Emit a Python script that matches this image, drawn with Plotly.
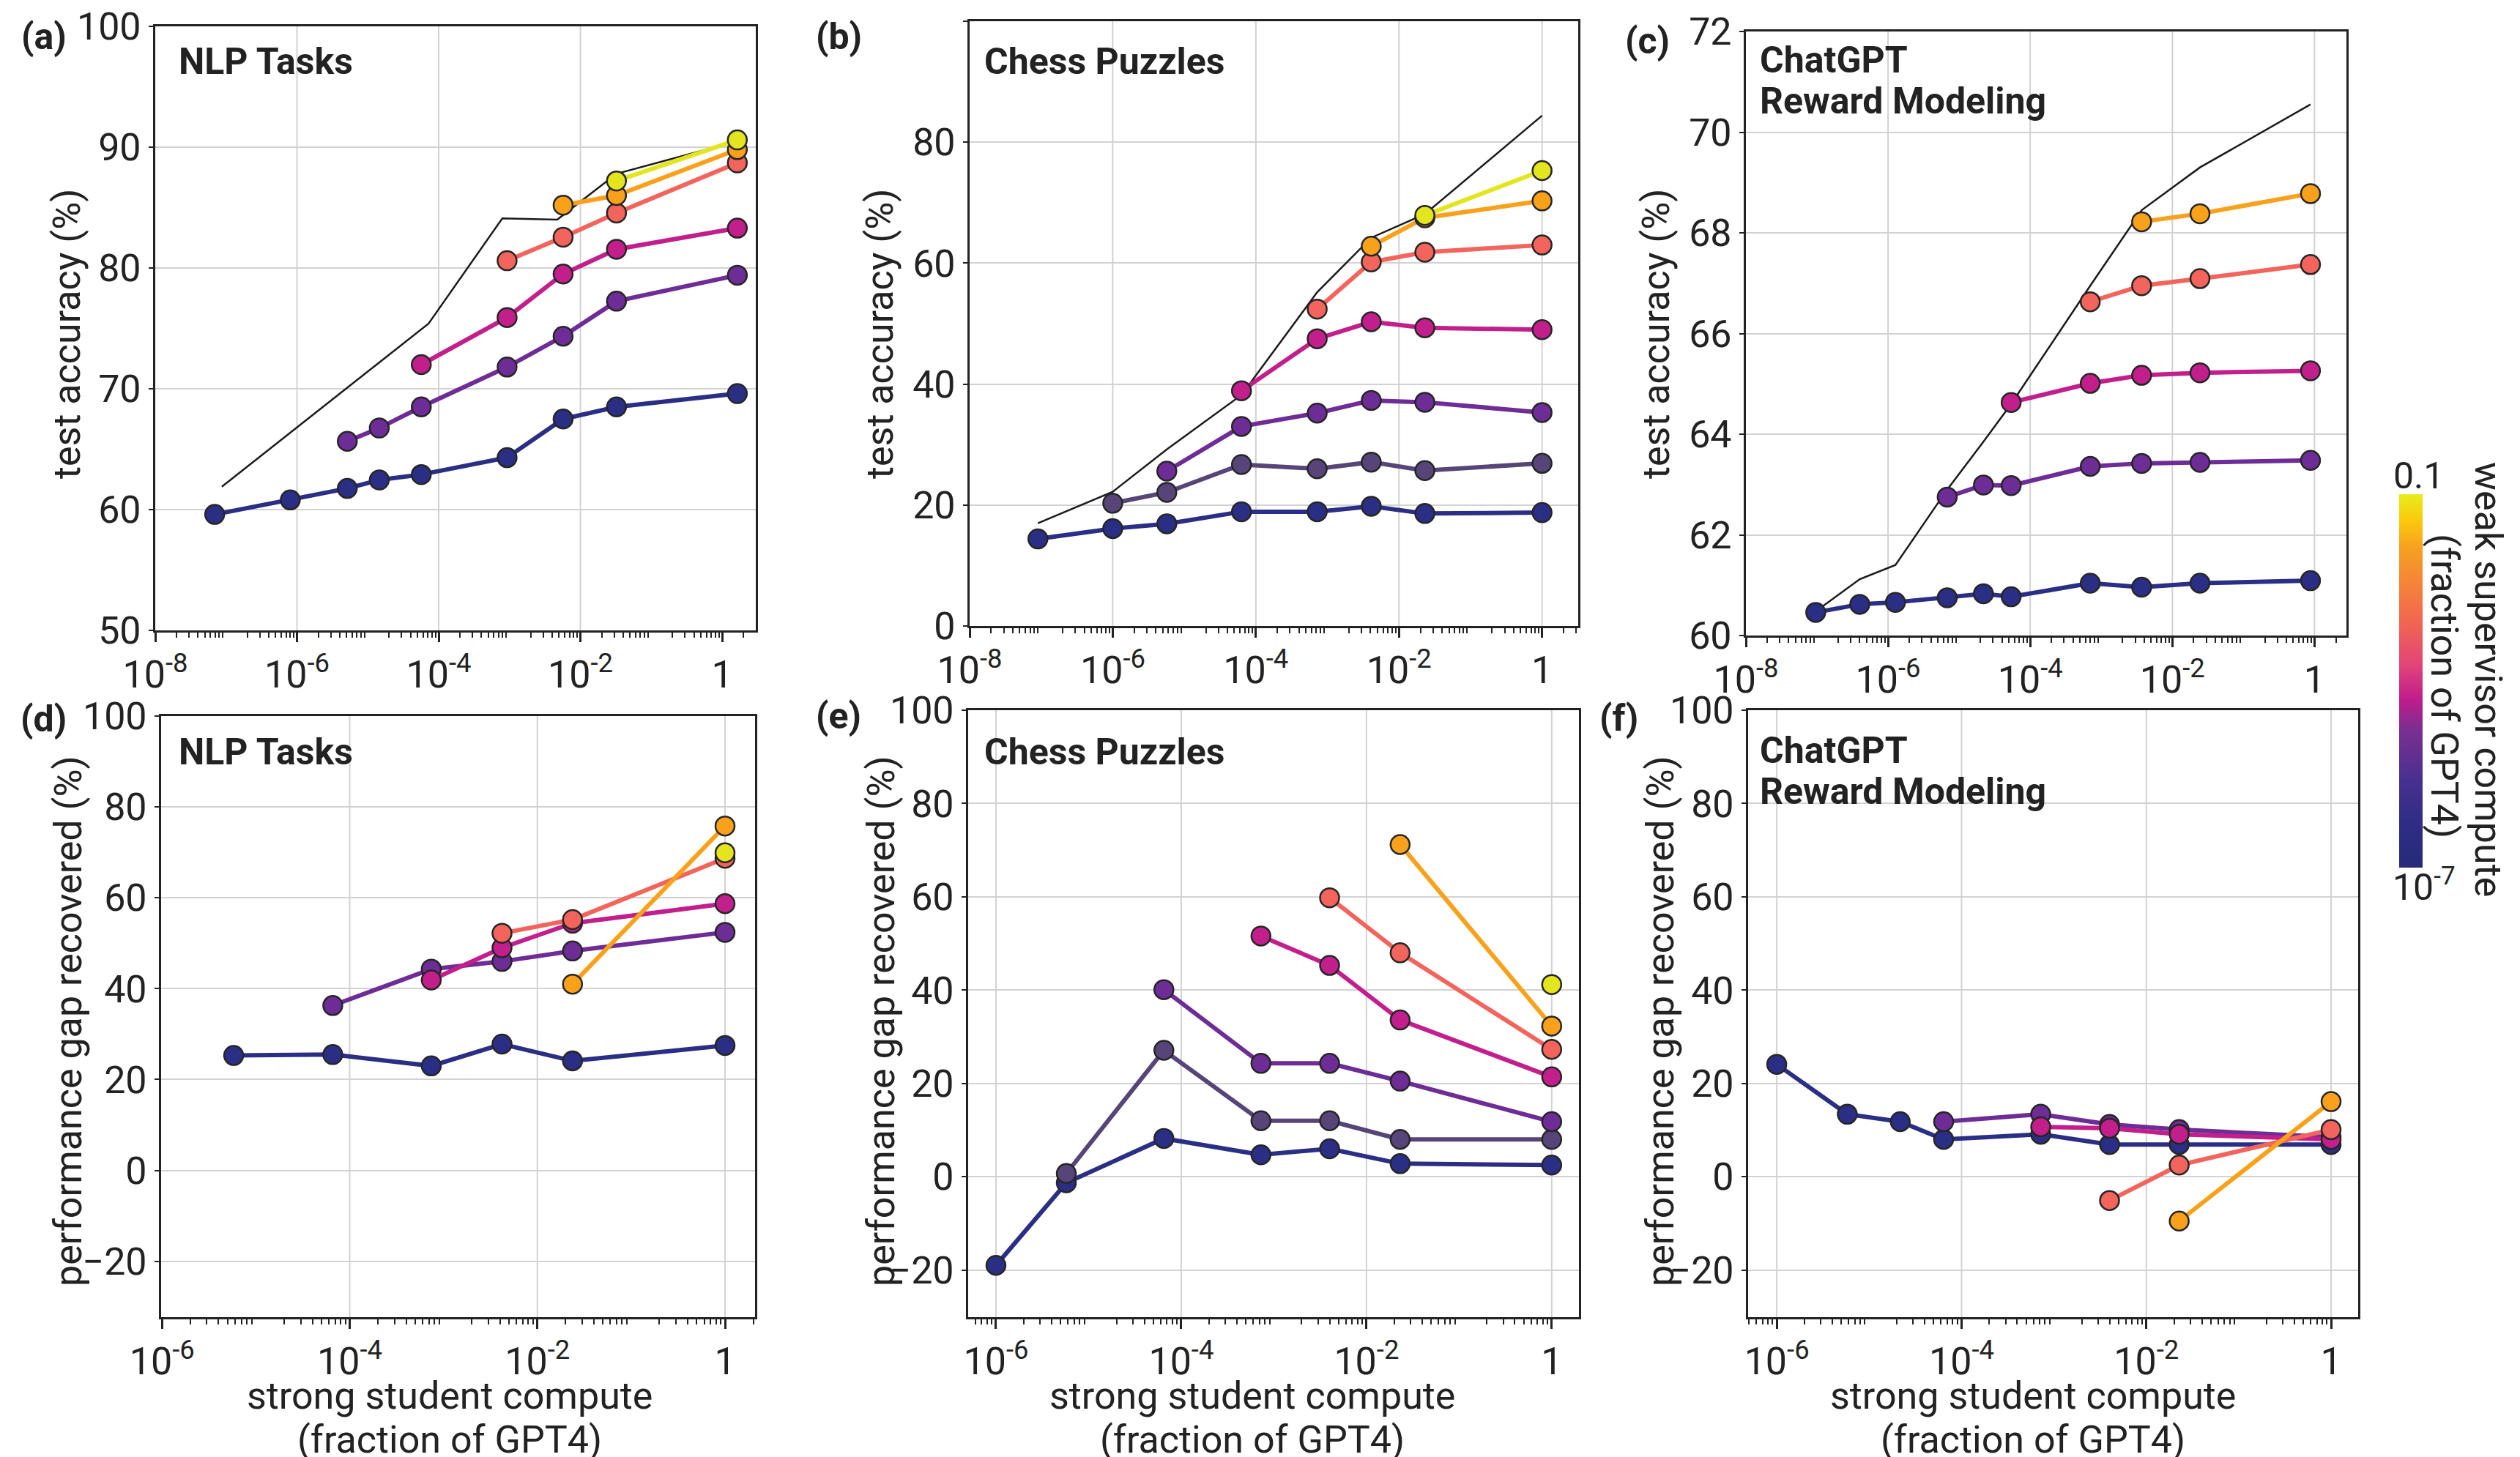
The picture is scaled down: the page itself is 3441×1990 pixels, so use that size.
import plotly.graph_objects as go

W, H = 3441, 1990

# ---------------- data ----------------
# (a) NLP tasks - test accuracy (%)
A_X = [6.9e-8, 8.05e-7, 5.13e-6, 1.45e-5, 5.68e-5, 9.23e-4, 5.70e-3, 0.0323, 1.64]
A_BLUE = [59.6, 60.8, 61.75, 62.45, 62.9, 64.3, 67.5, 68.5, 69.6]
A_PURPLE = [None, None, 65.65, 66.75, 68.5, 71.8, 74.35, 77.25, 79.4]
A_MAGENTA = [None, None, None, None, 72.0, 75.9, 79.5, 81.55, 83.3]
A_SALMON = [None, None, None, None, None, 80.6, 82.55, 84.55, 88.7]
A_ORANGE = [None, None, None, None, None, None, 85.2, 86.0, 89.8]
A_YELLOW = [None, None, None, None, None, None, None, 87.2, 90.6]
A_CEIL_X = [8.7e-8, 7.2e-5, 7.9e-4, 4.7e-3, 0.0323, 1.64]
A_CEIL = [61.9, 75.4, 84.1, 84.0, 87.8, 90.5]

# (b) Chess puzzles - test accuracy (%)
B_X = [9.0e-8, 1.0e-6, 5.7e-6, 6.3e-5, 7.2e-4, 4.1e-3, 0.023, 1.0]
B_BLUE = [14.4, 16.1, 16.9, 18.9, 18.9, 19.8, 18.6, 18.75]
B_GRAY = [None, 20.3, 22.1, 26.7, 26.0, 27.1, 25.7, 26.9]
B_PURPLE = [None, None, 25.6, 33.0, 35.2, 37.3, 37.0, 35.3]
B_MAGENTA = [None, None, None, 38.9, 47.5, 50.3, 49.3, 49.0]
B_SALMON = [None, None, None, None, 52.4, 60.2, 61.8, 63.0]
B_ORANGE = [None, None, None, None, None, 62.8, 67.5, 70.3]
B_YELLOW = [None, None, None, None, None, None, 67.9, 75.3]
B_CEIL = [17.0, 22.2, 29.2, 38.2, 55.2, 64.2, 68.1, 84.4]

# (c) ChatGPT reward modeling - test accuracy (%)
C_X = [9.6e-8, 4.0e-7, 1.27e-6, 6.8e-6, 2.2e-5, 5.4e-5, 7.0e-4, 3.7e-3, 0.0245, 0.88]
C_BLUE = [60.46, 60.62, 60.66, 60.75, 60.83, 60.77, 61.04, 60.96, 61.04, 61.09]
C_PURPLE = [None, None, None, 62.75, 62.99, 62.98, 63.36, 63.42, 63.44, 63.48]
C_MAGENTA = [None, None, None, None, None, 64.63, 65.01, 65.17, 65.22, 65.26]
C_SALMON = [None, None, None, None, None, None, 66.63, 66.95, 67.09, 67.37]
C_ORANGE = [None, None, None, None, None, None, None, 68.22, 68.38, 68.78]
C_CEIL = [60.48, 61.12, 61.4, 62.9, 63.85, 64.6, 66.95, 68.45, 69.3, 70.55]

# (d) NLP tasks - performance gap recovered (%)
D_X = [5.8e-6, 6.6e-5, 7.4e-4, 4.2e-3, 0.0237, 1.0]
D_BLUE = [25.3, 25.5, 23.0, 27.8, 24.1, 27.5]
D_PURPLE = [None, 36.3, 44.3, 46.0, 48.3, 52.4]
D_MAGENTA = [None, None, 41.9, 49.0, 54.4, 58.7]
D_SALMON = [None, None, None, 52.2, 55.2, 68.7]
D_ORANGE = [None, None, None, None, 41.0, 75.8]
D_YELLOW = [None, None, None, None, None, 69.9]

# (e) Chess puzzles - performance gap recovered (%)
E_X = [1.0e-6, 5.75e-6, 6.5e-5, 7.26e-4, 4.0e-3, 0.0231, 1.0]
E_BLUE = [-19.0, -1.3, 8.2, 4.7, 6.0, 2.8, 2.5]
E_GRAY = [None, 0.7, 27.1, 12.0, 12.0, 8.0, 8.0]
E_PURPLE = [None, None, 40.1, 24.3, 24.3, 20.5, 11.8]
E_MAGENTA = [None, None, None, 51.6, 45.3, 33.6, 21.4]
E_SALMON = [None, None, None, None, 59.8, 48.0, 27.3]
E_ORANGE = [None, None, None, None, None, 71.2, 32.3]
E_YELLOW = [None, None, None, None, None, None, 41.2]

# (f) ChatGPT reward modeling - performance gap recovered (%)
F_X = [1.0e-6, 5.8e-6, 2.17e-5, 6.4e-5, 7.2e-4, 4.0e-3, 0.0227, 1.0]
F_BLUE = [24.1, 13.4, 11.8, 8.0, 9.1, 6.9, 6.9, 6.9]
F_PURPLE = [None, None, None, 11.8, 13.4, 11.2, 10.1, 8.5]
F_MAGENTA = [None, None, None, None, 10.7, 10.4, 9.1, 8.0]
F_SALMON = [None, None, None, None, None, -5.1, 2.5, 10.1]
F_ORANGE = [None, None, None, None, None, None, -9.5, 16.1]

X_LABEL_EXP = [-8, -6, -4, -2, 0]
X_LABEL_TEXT = ["10<sup>-8</sup>", "10<sup>-6</sup>", "10<sup>-4</sup>", "10<sup>-2</sup>", "1"]
X_ODD_EXP = [-9, -7, -5, -3, -1]

# ---------------- styles ----------------
COL = dict(blue="#2a2f85", gray="#574579", purple="#6e2c97", magenta="#c21f8c",
           salmon="#f3645c", orange="#f9a11b", yellow="#e3e51f")
INK = "#222222"
GRID = "#d2d2d2"
FONT = "Roboto"

CSCALE = [[0.0, "#262a78"], [0.12, "#2f2d84"], [0.24, "#4a3090"], [0.37, "#7c2e92"],
          [0.45, "#bf1d8c"], [0.54, "#e2437a"], [0.64, "#ef6156"], [0.75, "#f5803c"],
          [0.86, "#f6a21e"], [0.93, "#fcc90c"], [1.0, "#e8ec1c"]]

# panel geometry in pixels: left, right, top, bottom
panels = [
    dict(box=(212, 1032, 36, 861), xr=(-8, 0.475), yr=(50, 100), yt=list(range(50, 101, 10)),
         x=A_X, series=[("blue", A_BLUE), ("purple", A_PURPLE), ("magenta", A_MAGENTA),
                        ("salmon", A_SALMON), ("orange", A_ORANGE), ("yellow", A_YELLOW)],
         ceil=(A_CEIL_X, A_CEIL), vgrid=[-6, -4, -2]),
    dict(box=(1324, 2155, 29, 855), xr=(-8, 0.505), yr=(0, 100), yt=list(range(0, 101, 20)),
         x=B_X, series=[("blue", B_BLUE), ("gray", B_GRAY), ("purple", B_PURPLE), ("magenta", B_MAGENTA),
                        ("salmon", B_SALMON), ("orange", B_ORANGE), ("yellow", B_YELLOW)],
         ceil=(B_X, B_CEIL), vgrid=[-6, -4, -2, 0]),
    dict(box=(2384, 3204, 43, 868), xr=(-8, 0.45), yr=(60, 72), yt=list(range(60, 73, 2)),
         x=C_X, series=[("blue", C_BLUE), ("purple", C_PURPLE), ("magenta", C_MAGENTA),
                        ("salmon", C_SALMON), ("orange", C_ORANGE)],
         ceil=(C_X, C_CEIL), vgrid=[-6, -4, -2, 0]),
    dict(box=(220, 1031, 978, 1799), xr=(-6.01, 0.32), yr=(-32.3, 100), yt=list(range(-20, 101, 20)),
         x=D_X, series=[("blue", D_BLUE), ("purple", D_PURPLE), ("magenta", D_MAGENTA),
                        ("salmon", D_SALMON), ("orange", D_ORANGE), ("yellow", D_YELLOW)],
         ceil=None, vgrid=[-4, -2, 0]),
    dict(box=(1322, 2156, 970, 1799), xr=(-6.3, 0.294), yr=(-30.1, 100), yt=list(range(-20, 101, 20)),
         x=E_X, series=[("blue", E_BLUE), ("gray", E_GRAY), ("purple", E_PURPLE), ("magenta", E_MAGENTA),
                        ("salmon", E_SALMON), ("orange", E_ORANGE), ("yellow", E_YELLOW)],
         ceil=None, vgrid=[-6, -4, -2, 0]),
    dict(box=(2387, 3220, 970, 1799), xr=(-6.31, 0.293), yr=(-30.1, 100), yt=list(range(-20, 101, 20)),
         x=F_X, series=[("blue", F_BLUE), ("purple", F_PURPLE), ("magenta", F_MAGENTA),
                        ("salmon", F_SALMON), ("orange", F_ORANGE)],
         ceil=None, vgrid=[-6, -4, -2, 0]),
]

fig = go.Figure()
layout = dict(width=W, height=H, margin=dict(l=0, r=0, t=0, b=0, pad=0, autoexpand=False),
              paper_bgcolor="white", plot_bgcolor="white", showlegend=False,
              font=dict(family=FONT, size=52, color=INK))

minor_vals = [m * 10.0 ** k for k in range(-9, 1) for m in range(2, 10)]

for i, p in enumerate(panels):
    n = "" if i == 0 else str(i + 1)
    xa, ya = "x" + n, "y" + n
    l, r, t, b = p["box"]
    lab = [(e, s) for e, s in zip(X_LABEL_EXP, X_LABEL_TEXT) if p["xr"][0] - 1e-6 <= e <= p["xr"][1]]
    layout["xaxis" + n] = dict(
        domain=[l / W, r / W], anchor=ya, type="log", range=list(p["xr"]), automargin=False,
        tickmode="array", tickvals=[10.0 ** e for e, _ in lab], ticktext=[s for _, s in lab],
        ticks="outside", ticklen=13, tickwidth=2.5, tickcolor=INK,
        minor=dict(tickvals=minor_vals, ticks="outside", ticklen=7, tickwidth=1.5, tickcolor=INK,
                   showgrid=False),
        showgrid=False, zeroline=False, showline=True, mirror=True, linecolor=INK, linewidth=3,
        tickfont=dict(size=52, color=INK), ticklabelstandoff=0)
    # second (overlaid) x axis carrying the unlabelled odd-decade major ticks
    layout["xaxis" + str(i + 7)] = dict(
        domain=[l / W, r / W], anchor=ya, overlaying=xa, side="bottom", type="log",
        range=list(p["xr"]), automargin=False, tickmode="array",
        tickvals=[10.0 ** e for e in X_ODD_EXP], showticklabels=False,
        ticks="outside", ticklen=13, tickwidth=2.5, tickcolor=INK,
        showgrid=False, zeroline=False, showline=False)
    layout["yaxis" + n] = dict(
        domain=[1 - b / H, 1 - t / H], anchor=xa, range=list(p["yr"]), automargin=False,
        tickmode="array", tickvals=p["yt"], ticks="outside", ticklen=6, tickwidth=2, tickcolor=INK,
        showgrid=True, gridcolor=GRID, gridwidth=2, zeroline=False,
        showline=True, mirror=True, linecolor=INK, linewidth=3,
        tickfont=dict(size=52, color=INK))

    # vertical grid lines at labelled decades
    gx, gy = [], []
    for e in p["vgrid"]:
        gx += [10.0 ** e, 10.0 ** e, None]
        gy += [p["yr"][0], p["yr"][1], None]
    fig.add_trace(go.Scatter(x=gx, y=gy, mode="lines", xaxis=xa, yaxis=ya, hoverinfo="skip",
                             line=dict(color=GRID, width=2)))

    if p["ceil"] is not None:
        fig.add_trace(go.Scatter(x=p["ceil"][0], y=p["ceil"][1], mode="lines", xaxis=xa, yaxis=ya,
                                 line=dict(color="#1a1a1a", width=2.5), hoverinfo="skip"))
    for cname, vals in p["series"]:
        fig.add_trace(go.Scatter(
            x=p["x"], y=vals, mode="lines+markers", xaxis=xa, yaxis=ya, connectgaps=False,
            line=dict(color=COL[cname], width=6),
            marker=dict(size=26, color=COL[cname], line=dict(color="#262626", width=2.5)),
            cliponaxis=False))

# colour bar (weak supervisor compute)
fig.add_trace(go.Scatter(
    x=[1e-12], y=[0], mode="markers", xaxis="x4", yaxis="y4", hoverinfo="skip",
    marker=dict(size=1, opacity=0, color=[0.5], cmin=0, cmax=1, colorscale=CSCALE, showscale=True,
                colorbar=dict(x=3276 / W, xanchor="left", y=1 - 930 / H, yanchor="middle",
                              thickness=32, thicknessmode="pixels", len=510, lenmode="pixels",
                              xpad=0, ypad=0, outlinewidth=0, ticks="", showticklabels=False))))

anns = []


def ann(text, x, y, size=52, bold=False, angle=0, xanchor="center", yanchor="middle"):
    if bold:
        text = "<b>" + text + "</b>"
    anns.append(dict(text=text, x=x / W, y=1 - y / H, xref="paper", yref="paper", showarrow=False,
                     textangle=angle, xanchor=xanchor, yanchor=yanchor,
                     font=dict(family=FONT, size=size, color=INK)))


# panel letters
for lab, x, y in [("(a)", 60, 50), ("(b)", 1145, 50), ("(c)", 2249, 56),
                  ("(d)", 60, 982), ("(e)", 1145, 978), ("(f)", 2210, 981)]:
    ann(lab, x, y, size=50, bold=True)

# panel titles
for txt, x, y in [("NLP Tasks", 242, 84), ("Chess Puzzles", 1342, 84), ("ChatGPT", 2401, 82),
                  ("Reward Modeling", 2401, 138), ("NLP Tasks", 242, 1027),
                  ("Chess Puzzles", 1342, 1027), ("ChatGPT", 2401, 1025),
                  ("Reward Modeling", 2401, 1081)]:
    ann(txt, x, y, size=50, bold=True, xanchor="left")

# y-axis titles
for txt, x, y in [("test accuracy (%)", 91, 456), ("test accuracy (%)", 1201, 456),
                  ("test accuracy (%)", 2261, 456),
                  ("performance gap recovered (%)", 93, 1395),
                  ("performance gap recovered (%)", 1203, 1395),
                  ("performance gap recovered (%)", 2267, 1395)]:
    ann(txt, x, y, size=52, angle=-90)

# x-axis titles (bottom row)
for cx in (614, 1710, 2776):
    ann("strong student compute", cx, 1906, size=52)
    ann("(fraction of GPT4)", cx, 1966, size=52)

# colour bar labels
ann("0.1", 3302, 650, size=50)
ann("10<sup>-7</sup>", 3310, 1208, size=50)
ann("weak supervisor compute", 3398, 928, size=52, angle=90)
ann("(fraction of GPT4)", 3338, 937, size=52, angle=90)

layout["annotations"] = anns
fig.update_layout(**layout)
fig.write_html("out.html")
